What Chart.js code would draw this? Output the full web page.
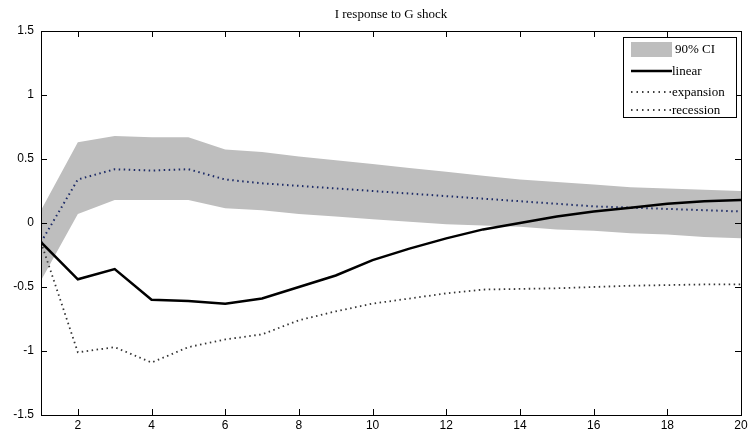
<!DOCTYPE html>
<html>
<head>
<meta charset="utf-8">
<script src="https://cdn.jsdelivr.net/npm/chart.js@4.4.1/dist/chart.umd.min.js"></script>
<style>
  html, body { margin: 0; padding: 0; background: #fff; }
  #irf { display: block; }
</style>
</head>
<body>
<canvas id="irf" width="753" height="433"></canvas>
<script>
// horizon (quarters) and responses
var horizon   = [1, 2, 3, 4, 5, 6, 7, 8, 9, 10, 11, 12, 13, 14, 15, 16, 17, 18, 19, 20];
var linear    = [-0.15, -0.44, -0.36, -0.60, -0.61, -0.63, -0.59, -0.50, -0.41, -0.29, -0.20, -0.12, -0.05, 0.00, 0.05, 0.09, 0.12, 0.15, 0.17, 0.18];
var expansion = [-0.15, 0.34, 0.42, 0.41, 0.42, 0.34, 0.31, 0.29, 0.27, 0.25, 0.23, 0.21, 0.19, 0.17, 0.15, 0.13, 0.12, 0.11, 0.10, 0.09];
var recession = [-0.15, -1.01, -0.97, -1.09, -0.97, -0.91, -0.87, -0.76, -0.69, -0.63, -0.59, -0.55, -0.52, -0.515, -0.51, -0.50, -0.49, -0.485, -0.48, -0.48];
var ciUpper   = [0.10, 0.63, 0.68, 0.67, 0.67, 0.575, 0.555, 0.52, 0.49, 0.46, 0.43, 0.40, 0.37, 0.34, 0.32, 0.30, 0.28, 0.27, 0.26, 0.25];
var ciLower   = [-0.45, 0.07, 0.18, 0.18, 0.18, 0.115, 0.10, 0.07, 0.05, 0.03, 0.01, -0.01, -0.02, -0.03, -0.05, -0.06, -0.08, -0.09, -0.11, -0.12];
var xTicks = [2, 4, 6, 8, 10, 12, 14, 16, 18, 20];
var yTicks = [-1.5, -1, -0.5, 0, 0.5, 1, 1.5];
var titleText = 'I response to G shock';

function pts(arr){
  return horizon.map(function(h, i){ return {x: h, y: arr[i]}; });
}

var bandColor = '#bebebe';
var serif = "'Liberation Serif', 'DejaVu Serif', serif";
var sans = "'Liberation Sans', Arial, sans-serif";

// matlab style box with inward ticks, title over the axes, legend in the corner
var boxPlugin = {
  id: 'boxPlugin',
  afterDraw: function(chart){
    var c = chart.ctx, a = chart.chartArea;
    var xs = chart.scales.x, ys = chart.scales.y;
    c.save();
    c.strokeStyle = '#000';
    c.lineWidth = 1;
    c.strokeRect(a.left + 0.5, a.top + 0.5, a.right - a.left, a.bottom - a.top);
    c.beginPath();
    xTicks.forEach(function(v){
      var px = Math.round(xs.getPixelForValue(v)) + 0.5;
      c.moveTo(px, a.bottom); c.lineTo(px, a.bottom - 6);
      c.moveTo(px, a.top); c.lineTo(px, a.top + 6);
    });
    yTicks.forEach(function(v){
      var py = Math.round(ys.getPixelForValue(v)) + 0.5;
      c.moveTo(a.left, py); c.lineTo(a.left + 6, py);
      c.moveTo(a.right, py); c.lineTo(a.right - 6, py);
    });
    c.stroke();

    // title centred on the axes
    c.fillStyle = '#000';
    c.font = '13px ' + serif;
    c.textAlign = 'center';
    c.textBaseline = 'middle';
    c.fillText(titleText, (a.left + a.right) / 2, 15);
    c.textAlign = 'left';

    // legend
    var lx = 623, ly = 37, lw = 113, lh = 80;
    c.fillStyle = '#fff';
    c.fillRect(lx, ly, lw, lh);
    c.strokeRect(lx + 0.5, ly + 0.5, lw, lh);
    var ds = chart.data.datasets;
    var rows = [
      {label: '90% CI', y: 49, ds: ds[0], patch: true},
      {label: ds[2].label, y: 71, ds: ds[2]},
      {label: ds[3].label, y: 92, ds: ds[3]},
      {label: ds[4].label, y: 110, ds: ds[4]}
    ];
    c.font = '13px ' + serif;
    rows.forEach(function(r){
      if (r.patch) {
        c.fillStyle = bandColor;
        c.fillRect(631, r.y - 7, 41, 15);
      } else {
        c.beginPath();
        c.strokeStyle = '#000';
        c.lineWidth = r.ds.borderDash ? 1.5 : 2.5;
        c.setLineDash(r.ds.borderDash ? [1.5, 4] : []);
        c.moveTo(631, r.y); c.lineTo(672, r.y);
        c.stroke();
        c.setLineDash([]);
      }
      c.fillStyle = '#000';
      c.fillText(r.label, r.patch ? 675 : 672, r.y + 1);
    });
    c.restore();
  }
};

var ctx = document.getElementById('irf');
var irfChart = new Chart(ctx, {
  type: 'line',
  data: {
    datasets: [
      { label: 'ci upper', data: pts(ciUpper), borderWidth: 0, pointRadius: 0,
        backgroundColor: bandColor, fill: '+1', order: 10 },
      { label: 'ci lower', data: pts(ciLower), borderWidth: 0, pointRadius: 0,
        backgroundColor: bandColor, fill: false, order: 11 },
      { label: 'linear', data: pts(linear), borderColor: '#000', borderWidth: 2.5,
        pointRadius: 0, fill: false, order: 1 },
      { label: 'expansion', data: pts(expansion), borderColor: '#1c2a66', borderWidth: 2,
        borderDash: [1.5, 3.5], pointRadius: 0, fill: false, order: 2 },
      { label: 'recession', data: pts(recession), borderColor: '#333', borderWidth: 1.8,
        borderDash: [1.5, 3.5], pointRadius: 0, fill: false, order: 3 }
    ]
  },
  options: {
    responsive: false,
    animation: false,
    layout: { padding: { left: 0, right: 12, top: 31, bottom: 0 } },
    elements: { line: { tension: 0 } },
    plugins: {
      legend: { display: false },
      tooltip: { enabled: false },
      title: { display: false }
    },
    scales: {
      x: {
        type: 'linear',
        min: 1, max: 20,
        grid: { display: false, drawTicks: false },
        border: { display: false },
        afterBuildTicks: function(s){ s.ticks = xTicks.map(function(v){ return {value: v}; }); },
        afterFit: function(s){ s.height = 18; },
        ticks: { color: '#000', font: { family: sans, size: 12 }, padding: 3, maxRotation: 0 }
      },
      y: {
        min: -1.5, max: 1.5,
        grid: { display: false, drawTicks: false },
        border: { display: false },
        afterBuildTicks: function(s){ s.ticks = yTicks.map(function(v){ return {value: v}; }); },
        afterFit: function(s){ s.width = 41; },
        ticks: { color: '#000', font: { family: sans, size: 12 }, padding: 7,
                 callback: function(v){ return String(v); } }
      }
    }
  },
  plugins: [boxPlugin]
});
</script>
</body>
</html>
